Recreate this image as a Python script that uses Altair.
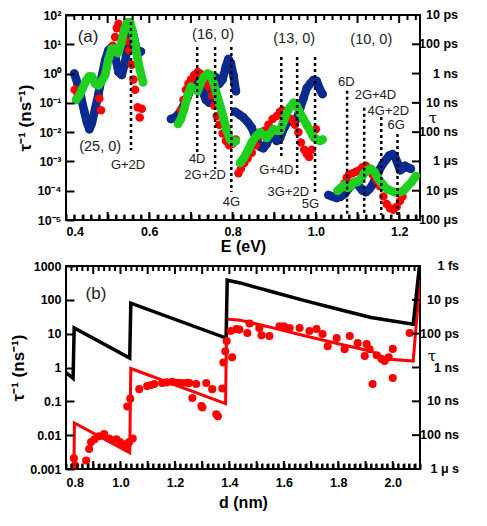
import altair as alt
import pandas as pd
import math

FONT = "Liberation Sans"
BLUE = "#0a2a8f"
RED = "#ff0000"
GREEN = "#1fcf1f"
W = 354
HA = 205
HB = 203

# ---------------- Panel (a): rates vs E, log10(rate) ----------------
blue_E = [
    [0.420, 0.428, 0.436, 0.444, 0.450, 0.456, 0.462, 0.470, 0.478, 0.486, 0.494, 0.502,
     0.510, 0.518, 0.526, 0.534, 0.542, 0.550, 0.556, 0.562, 0.568, 0.574, 0.580],
    [0.652, 0.662, 0.672, 0.682, 0.692, 0.702, 0.712, 0.720, 0.728, 0.736, 0.744, 0.750,
     0.756, 0.762, 0.768, 0.776, 0.784, 0.790, 0.796, 0.802, 0.808],
    [0.806, 0.816, 0.826, 0.836, 0.846, 0.856, 0.866, 0.874, 0.882, 0.890, 0.898, 0.906,
     0.914, 0.922, 0.930, 0.938, 0.946, 0.954, 0.962, 0.970, 0.978, 0.986, 0.994, 1.002,
     1.010, 1.016],
    [1.030, 1.040, 1.050, 1.060, 1.070, 1.080, 1.088, 1.096, 1.104, 1.112, 1.120, 1.128,
     1.136, 1.144, 1.152, 1.160, 1.168, 1.176, 1.184, 1.190, 1.196, 1.202, 1.208, 1.214,
     1.220, 1.228],
]
blue_L = [
    [0.0, -0.35, -0.8, -1.3, -1.65, -1.9, -1.7, -1.2, -0.7, -0.1, 0.45, 0.8,
     0.9, 0.6, 0.05, -0.05, 0.4, 1.1, 1.45, 1.3, 0.9, 0.7, 0.75],
    [-1.55, -1.5, -1.35, -1.1, -0.8, -0.45, -0.2, -0.3, -0.6, -0.9, -1.0, -0.6,
     -0.1, -0.15, -0.35, -0.2, 0.25, 0.5, 0.35, -0.05, -0.6],
    [-1.3, -1.4, -1.5, -1.65, -1.85, -2.2, -2.5, -2.55, -2.4, -2.15, -2.1, -2.3,
     -2.2, -1.9, -1.7, -1.55, -1.6, -1.55, -1.2, -0.85, -0.5, -0.35, -0.22, -0.25,
     -0.55, -0.7],
    [-4.15, -4.2, -4.25, -4.2, -4.1, -3.9, -3.75, -3.7, -3.85, -4.0, -4.05, -3.95,
     -3.8, -3.55, -3.3, -3.1, -2.95, -2.8, -2.75, -2.85, -3.05, -3.3, -3.25, -3.15,
     -3.2, -3.25],
]
green_E = [
    [0.424, 0.432, 0.440, 0.448, 0.455, 0.462, 0.470, 0.478, 0.486, 0.494, 0.502, 0.510,
     0.518, 0.525, 0.532, 0.540, 0.547, 0.554, 0.560, 0.566, 0.572, 0.578, 0.585],
    [0.669, 0.676, 0.684, 0.692, 0.700, 0.708, 0.716, 0.724, 0.732, 0.740, 0.748, 0.755,
     0.762, 0.770, 0.778, 0.786, 0.794, 0.802, 0.808],
    [0.818, 0.826, 0.836, 0.846, 0.856, 0.866, 0.874, 0.882, 0.890, 0.898, 0.906, 0.914,
     0.922, 0.930, 0.938, 0.946, 0.954, 0.962, 0.970, 0.978, 0.986, 0.994, 1.002, 1.010,
     1.016],
    [1.052, 1.060, 1.068, 1.076, 1.084, 1.092, 1.100, 1.108, 1.116, 1.124, 1.132, 1.140,
     1.148, 1.156, 1.164, 1.172, 1.180, 1.190, 1.200, 1.210, 1.220, 1.230, 1.240],
]
green_L = [
    [-0.9, -0.75, -0.5, -0.25, -0.1, -0.1, -0.35, -0.4, -0.25, -0.05, 0.5, 0.85,
     0.85, 0.7, 1.0, 1.5, 1.75, 1.75, 1.45, 1.0, 0.5, 0.1, -0.3],
    [-1.72, -1.55, -1.2, -0.75, -0.45, -0.55, -0.6, -0.3, -0.1, 0.0, -0.05, -0.35,
     -0.7, -1.1, -1.5, -1.95, -2.25, -2.35, -2.3],
    [-3.05, -2.9, -2.65, -2.35, -2.15, -2.0, -2.1, -2.2, -2.05, -1.9, -1.95, -1.95,
     -1.65, -1.35, -1.15, -1.0, -1.1, -1.35, -1.55, -1.75, -1.95, -2.15, -2.25, -2.3,
     -2.25],
    [-4.0, -3.9, -3.8, -3.9, -3.85, -3.7, -3.7, -3.6, -3.4, -3.3, -3.25, -3.35,
     -3.55, -3.7, -3.85, -3.95, -4.0, -4.05, -4.05, -4.0, -3.85, -3.7, -3.5],
]
red_E = [
    [0.421, 0.428, 0.480, 0.484, 0.512, 0.518, 0.522, 0.526, 0.532, 0.538, 0.545, 0.552,
     0.558, 0.562, 0.566, 0.572, 0.577, 0.582],
    [0.676, 0.682, 0.688, 0.694, 0.700, 0.708, 0.716, 0.722, 0.728, 0.734, 0.742, 0.750,
     0.756, 0.762, 0.768, 0.776, 0.784, 0.792, 0.800, 0.808],
    [0.814, 0.820, 0.828, 0.836, 0.846, 0.856, 0.866, 0.876, 0.886, 0.896, 0.906, 0.914,
     0.920, 0.930, 0.940, 0.950, 0.958, 0.964, 0.972, 0.978, 0.984, 0.990, 0.996, 1.000],
    [1.062, 1.068, 1.074, 1.080, 1.088, 1.096, 1.104, 1.112, 1.120, 1.128, 1.136, 1.146,
     1.154, 1.162, 1.170, 1.178, 1.186, 1.194, 1.202, 1.208],
]
red_L = [
    [-0.55, -0.7, -0.85, -1.25, 0.95, 1.25, 1.55, 1.7, 1.55, 1.3, 1.1, 0.8,
     0.3, -0.2, -0.55, -1.15, -1.5, -1.2],
    [-1.25, -0.9, -0.55, -0.35, -0.2, -0.05, 0.05, 0.0, -0.15, -0.3, -0.45, -0.75,
     -1.1, -1.45, -1.75, -2.05, -2.3, -2.45, -2.4, -2.25],
    [-3.4, -3.25, -3.05, -2.9, -2.7, -2.45, -2.15, -1.95, -1.75, -1.55, -1.45, -1.3,
     -1.25, -1.35, -1.55, -1.75, -2.0, -2.35, -2.6, -2.75, -2.85, -2.6, -2.2, -1.9],
    [-3.9, -3.75, -3.55, -3.45, -3.4, -3.35, -3.3, -3.2, -3.15, -3.3, -3.45, -3.65,
     -3.85, -4.2, -4.45, -4.6, -4.65, -4.55, -4.35, -4.2],
]

# dashed marker lines: E position, top and bottom (log10 rate)
mode_E = [0.556, 0.715, 0.758, 0.797, 0.917, 0.955, 0.998, 1.075, 1.116, 1.157, 1.196]
mode_top = [1.76, 0.91, 0.91, 0.91, 0.57, 0.57, 0.57, -0.59, -1.17, -1.48, -2.06]
mode_bot = [-2.61, -2.68, -3.26, -4.04, -2.91, -3.46, -4.04, -4.83, -4.83, -4.83, -4.83]

# text annotations (a)
ann_a_text = ["(a)", "(25, 0)", "(16, 0)", "(13, 0)", "(10, 0)",
              "G+2D", "4D", "2G+2D", "4G", "G+4D", "3G+2D", "5G", "6D", "2G+4D", "4G+2D", "6G"]
ann_a_E = [0.453, 0.482, 0.753, 0.948, 1.133,
           0.549, 0.715, 0.734, 0.797, 0.905, 0.934, 0.987, 1.073, 1.143, 1.174, 1.193]
ann_a_L = [1.25, -2.5, 1.32, 1.18, 1.15,
           -3.12, -2.91, -3.46, -4.38, -3.29, -4.04, -4.45, -0.29, -0.73, -1.28, -1.75]
ann_a_size = [17, 14.5, 14.5, 14.5, 14.5,
              13, 13, 13, 13, 13, 13, 13, 13, 13, 13, 13]

ya_vals = [-5, -4, -3, -2, -1, 0, 1, 2]
tau_a_labels = ["100 μs", "10 μs", "1 μs", "100 ns", "10 ns", "1 ns", "100 ps", "10 ps"]

# ---------------- Panel (b): rates vs diameter ----------------
black_d = [0.800, 0.826, 0.830, 1.034, 1.038, 1.388, 1.392, 1.440, 1.560, 1.680, 1.800,
           1.920, 2.075, 2.098]
black_L = [-0.15, -0.32, 1.17, 0.28, 1.9, 0.87, 2.58, 2.5, 2.23, 1.97, 1.72,
           1.48, 1.28, 3.0]
redline_d = [0.829, 0.831, 1.034, 1.038, 1.386, 1.390, 1.440, 1.560, 1.680, 1.800,
             1.920, 1.980, 2.075, 2.100]
redline_L = [-3.0, -1.64, -2.52, -0.03, -1.07, 1.43, 1.40, 1.17, 0.93, 0.70,
             0.48, 0.25, 0.19, 2.6]
dots_d = [0.829, 0.834, 0.874, 0.885, 0.892, 0.905, 0.921, 0.940, 0.958, 0.970, 0.985,
          0.998, 1.013, 1.025, 1.032, 1.045,
          1.025, 1.036, 1.069, 1.098, 1.113, 1.124, 1.153, 1.170, 1.190, 1.210, 1.227,
          1.245, 1.253, 1.264, 1.278, 1.297, 1.301, 1.315, 1.337, 1.352, 1.358, 1.374,
          1.378, 1.385, 1.390, 1.405,
          1.410, 1.426, 1.437, 1.466, 1.474, 1.510, 1.518, 1.547, 1.584, 1.600, 1.621,
          1.658, 1.694, 1.720, 1.742, 1.761, 1.794, 1.823, 1.842, 1.871, 1.897, 1.904,
          1.915, 1.926, 1.941, 1.959, 1.970, 1.985, 2.000, 2.000, 2.062]
dots_L = [-2.68, -2.9, -2.75, -2.41, -2.2, -2.12, -2.03, -1.97, -2.1, -2.15, -2.12,
          -2.2, -2.27, -2.33, -2.2, -2.1,
          -1.15, -0.92, -0.64, -0.55, -0.52, -0.49, -0.46, -0.44, -0.42, -0.45, -0.46,
          -0.45, -0.46, -0.9, -0.49, -1.14, -1.18, -0.46, -0.64, -1.38, -1.44, -0.62,
          0.15, 0.48, 0.78, 1.08,
          0.3, 1.14, 1.12, 1.02, 1.3, 1.17, 0.95, 0.93, 1.22, 1.22, 1.17,
          1.17, 1.08, 1.14, 0.99, 0.63, 0.87, 0.54, 0.93, 0.72, 0.34, 0.69,
          0.54, -0.49, 0.36, 0.25, 0.19, 0.3, 0.55, -0.31, 1.02]

yb_vals = [-3, -2, -1, 0, 1, 2, 3]
yb_labels = ["0.001", "0.01", "0.1", "1", "10", "100", "1000"]
tau_b_labels = ["1 μ s", "100 ns", "10 ns", "1 ns", "100 ps", "10 ps", "1 fs"]

# tick positions (x every 0.02) and lengths in pixels (style)
ticks_a_x = [round(0.40 + 0.02 * i, 2) for i in range(43)]
ticks_b_x = [round(0.80 + 0.02 * i, 2) for i in range(66)]
MAJOR_PX, MINOR_PX, YTICK_PX = 8, 5, 8
XLAB_EXPR = "abs(datum.value*5 - round(datum.value*5)) < 0.001 ? format(datum.value, '.1f') : ''"


def series_df(Es, Ls, name):
    rows = []
    for g, (e_list, l_list) in enumerate(zip(Es, Ls)):
        for i, (e, l) in enumerate(zip(e_list, l_list)):
            rows.append({"x": e, "rate": 10.0 ** l, "grp": f"{name}{g}", "idx": i})
    return pd.DataFrame(rows)


def scales(xdom, ydom):
    return (alt.Scale(domain=xdom, nice=False, zero=False),
            alt.Scale(type="log", domain=ydom, nice=False))


def x_axis(ticks, title, lab_pad, title_pad):
    return alt.Axis(values=ticks, labelExpr=XLAB_EXPR, labelOverlap=False, ticks=True,
                    tickSize=6, tickWidth=2, tickColor="black", zindex=1,
                    offset=alt.ExprRef(expr="-6"), domain=False, grid=False, title=title,
                    labelPadding=lab_pad, titlePadding=title_pad, titleFontSize=16,
                    labelFontSize=12.5)


def y_axis(yexp, expr):
    return alt.Axis(values=[10.0 ** v for v in yexp], labelExpr=expr, ticks=True,
                    tickSize=8, tickWidth=2, tickColor="black", zindex=1,
                    offset=alt.ExprRef(expr="-8"), domain=False, grid=False,
                    title="τ⁻¹ (ns⁻¹)", titleFontSize=17, titlePadding=2, labelPadding=5,
                    labelFontSize=12.5)


def tick_frames(xticks, xdom, ydom, yexp, H):
    dec_px = H / math.log10(ydom[1] / ydom[0])
    unit_px = W / (xdom[1] - xdom[0])
    xt = {"x": [], "top": [], "bot": []}
    for v in xticks:
        L = MAJOR_PX if abs(v * 10 - round(v * 10)) < 1e-6 else MINOR_PX
        f = 10 ** (L / dec_px)
        xt["x"] += [v, v]
        xt["top"] += [ydom[0] * f, ydom[1]]
        xt["bot"] += [ydom[0], ydom[1] / f]
    yt = {"rate": [], "x": [], "x2": []}
    for e in yexp:
        yt["rate"] += [10.0 ** e]
        yt["x"] += [xdom[1] - YTICK_PX / unit_px]
        yt["x2"] += [xdom[1]]
    return pd.DataFrame(xt), pd.DataFrame(yt)


# ---------------- panel (a) ----------------
XS_A, YS_A = scales([0.4, 1.25], [1e-5, 1e2])
sup = "['⁻⁵','⁻⁴','⁻³','⁻²','⁻¹','⁰','¹','²']"
XAX_A = x_axis(ticks_a_x, "E (eV)", 5, 1)
YAX_A = y_axis(ya_vals, "'10' + " + sup + "[round(log(datum.value)/LN10)+5]")


def XA(f):
    return alt.X(f"{f}:Q", scale=XS_A, axis=XAX_A)


def YA(f):
    return alt.Y(f"{f}:Q", scale=YS_A, axis=YAX_A)


xt_a, yt_a = tick_frames(ticks_a_x, [0.4, 1.25], [1e-5, 1e2], ya_vals, HA)
xticks_a = alt.Chart(xt_a).mark_rule(color="black", strokeWidth=2).encode(
    x=XA("x"), y=YA("top"), y2="bot:Q")
yticks_a = alt.Chart(yt_a).mark_rule(color="black", strokeWidth=2).encode(
    y=YA("rate"), x=XA("x"), x2="x2:Q")

blue_df = series_df(blue_E, blue_L, "b")
green_df = series_df(green_E, green_L, "g")
red_df = series_df(red_E, red_L, "r")


def band(df, color, line=True):
    base = alt.Chart(df)
    layers = []
    if line:
        layers.append(base.mark_line(color=color, strokeWidth=8.5, strokeCap="round",
                                     strokeJoin="round").encode(
            x=XA("x"), y=YA("rate"), detail="grp:N", order="idx:Q"))
    layers.append(base.mark_circle(color=color, size=72, opacity=1).encode(
        x=XA("x"), y=YA("rate")))
    return layers


modes_df = pd.DataFrame({"x": mode_E, "top": [10.0 ** v for v in mode_top],
                         "bot": [10.0 ** v for v in mode_bot]})
modes = alt.Chart(modes_df).mark_rule(color="black", strokeWidth=2.5, strokeDash=[3, 3]).encode(
    x=XA("x"), y=YA("top"), y2="bot:Q")

ann_a_df = pd.DataFrame({"x": ann_a_E, "rate": [10.0 ** v for v in ann_a_L],
                         "t": ann_a_text, "s": ann_a_size})
ann_a = alt.Chart(ann_a_df).mark_text(font=FONT, color="#222222", baseline="middle").encode(
    x=XA("x"), y=YA("rate"), text="t:N", size=alt.Size("s:Q", scale=None, legend=None))

right_a_df = pd.DataFrame({"rate": [10.0 ** v for v in ya_vals], "t": tau_a_labels})
right_a = alt.Chart(right_a_df).mark_text(font=FONT, fontWeight="bold", fontSize=12.5,
                                          align="right", baseline="middle", color="black").encode(
    x=alt.value(W + 38), y=YA("rate"), text="t:N")
tau_a = alt.Chart(pd.DataFrame({"rate": [10.0 ** -1.5], "t": ["τ"]})).mark_text(
    font="DejaVu Serif", fontSize=15, align="center", baseline="middle", color="black").encode(
    x=alt.value(W + 13), y=YA("rate"), text="t:N")

panel_a = alt.layer(
    *band(blue_df, BLUE), *band(red_df, RED, line=False), *band(green_df, GREEN),
    modes, xticks_a, yticks_a, ann_a, right_a, tau_a
).properties(width=W, height=HA)

# ---------------- panel (b) ----------------
XS_B, YS_B = scales([0.8, 2.1], [1e-3, 1e3])
XAX_B = x_axis(ticks_b_x, "d (nm)", 7, 6)
YAX_B = y_axis(yb_vals, str(yb_labels).replace('"', "'") + "[round(log(datum.value)/LN10)+3]")


def XB(f):
    return alt.X(f"{f}:Q", scale=XS_B, axis=XAX_B)


def YB(f):
    return alt.Y(f"{f}:Q", scale=YS_B, axis=YAX_B)


xt_b, yt_b = tick_frames(ticks_b_x, [0.8, 2.1], [1e-3, 1e3], yb_vals, HB)
xticks_b = alt.Chart(xt_b).mark_rule(color="black", strokeWidth=2).encode(
    x=XB("x"), y=YB("top"), y2="bot:Q")
yticks_b = alt.Chart(yt_b).mark_rule(color="black", strokeWidth=2).encode(
    y=YB("rate"), x=XB("x"), x2="x2:Q")

black_df = pd.DataFrame({"x": black_d, "rate": [10.0 ** v for v in black_L],
                         "idx": list(range(len(black_d)))})
redline_df = pd.DataFrame({"x": redline_d, "rate": [10.0 ** v for v in redline_L],
                           "idx": list(range(len(redline_d)))})
dots_df = pd.DataFrame({"x": dots_d, "rate": [10.0 ** v for v in dots_L]})

black_line = alt.Chart(black_df).mark_line(color="black", strokeWidth=3.5, clip=True).encode(
    x=XB("x"), y=YB("rate"), order="idx:Q")
red_line = alt.Chart(redline_df).mark_line(color=RED, strokeWidth=3, clip=True).encode(
    x=XB("x"), y=YB("rate"), order="idx:Q")
red_dots = alt.Chart(dots_df).mark_circle(color=RED, size=65, opacity=1).encode(
    x=XB("x"), y=YB("rate"))

lab_b = alt.Chart(pd.DataFrame({"x": [0.91], "rate": [10.0 ** 2.17], "t": ["(b)"]})).mark_text(
    font=FONT, fontSize=17, color="#222222", baseline="middle").encode(
    x=XB("x"), y=YB("rate"), text="t:N")

right_b_df = pd.DataFrame({"rate": [10.0 ** v for v in yb_vals], "t": tau_b_labels})
right_b = alt.Chart(right_b_df).mark_text(font=FONT, fontWeight="bold", fontSize=12.5,
                                          align="right", baseline="middle", color="black").encode(
    x=alt.value(W + 39), y=YB("rate"), text="t:N")
tau_b = alt.Chart(pd.DataFrame({"rate": [10.0 ** 0.34], "t": ["τ"]})).mark_text(
    font="DejaVu Serif", fontSize=15, align="center", baseline="middle", color="black").encode(
    x=alt.value(W + 12), y=YB("rate"), text="t:N")

panel_b = alt.layer(
    red_line, black_line, red_dots, xticks_b, yticks_b, lab_b, right_b, tau_b
).properties(width=W, height=HB)

chart = alt.vconcat(panel_a, panel_b, spacing=3).properties(
    padding={"left": 0, "top": 0, "right": 0, "bottom": 0}
).configure_view(stroke="black", strokeWidth=2).configure_axis(
    labelFont=FONT, titleFont=FONT, labelFontWeight="bold", titleFontWeight="bold",
    labelColor="black", titleColor="black"
)

chart.save("out.html", embed_options={"renderer": "svg", "actions": False})
